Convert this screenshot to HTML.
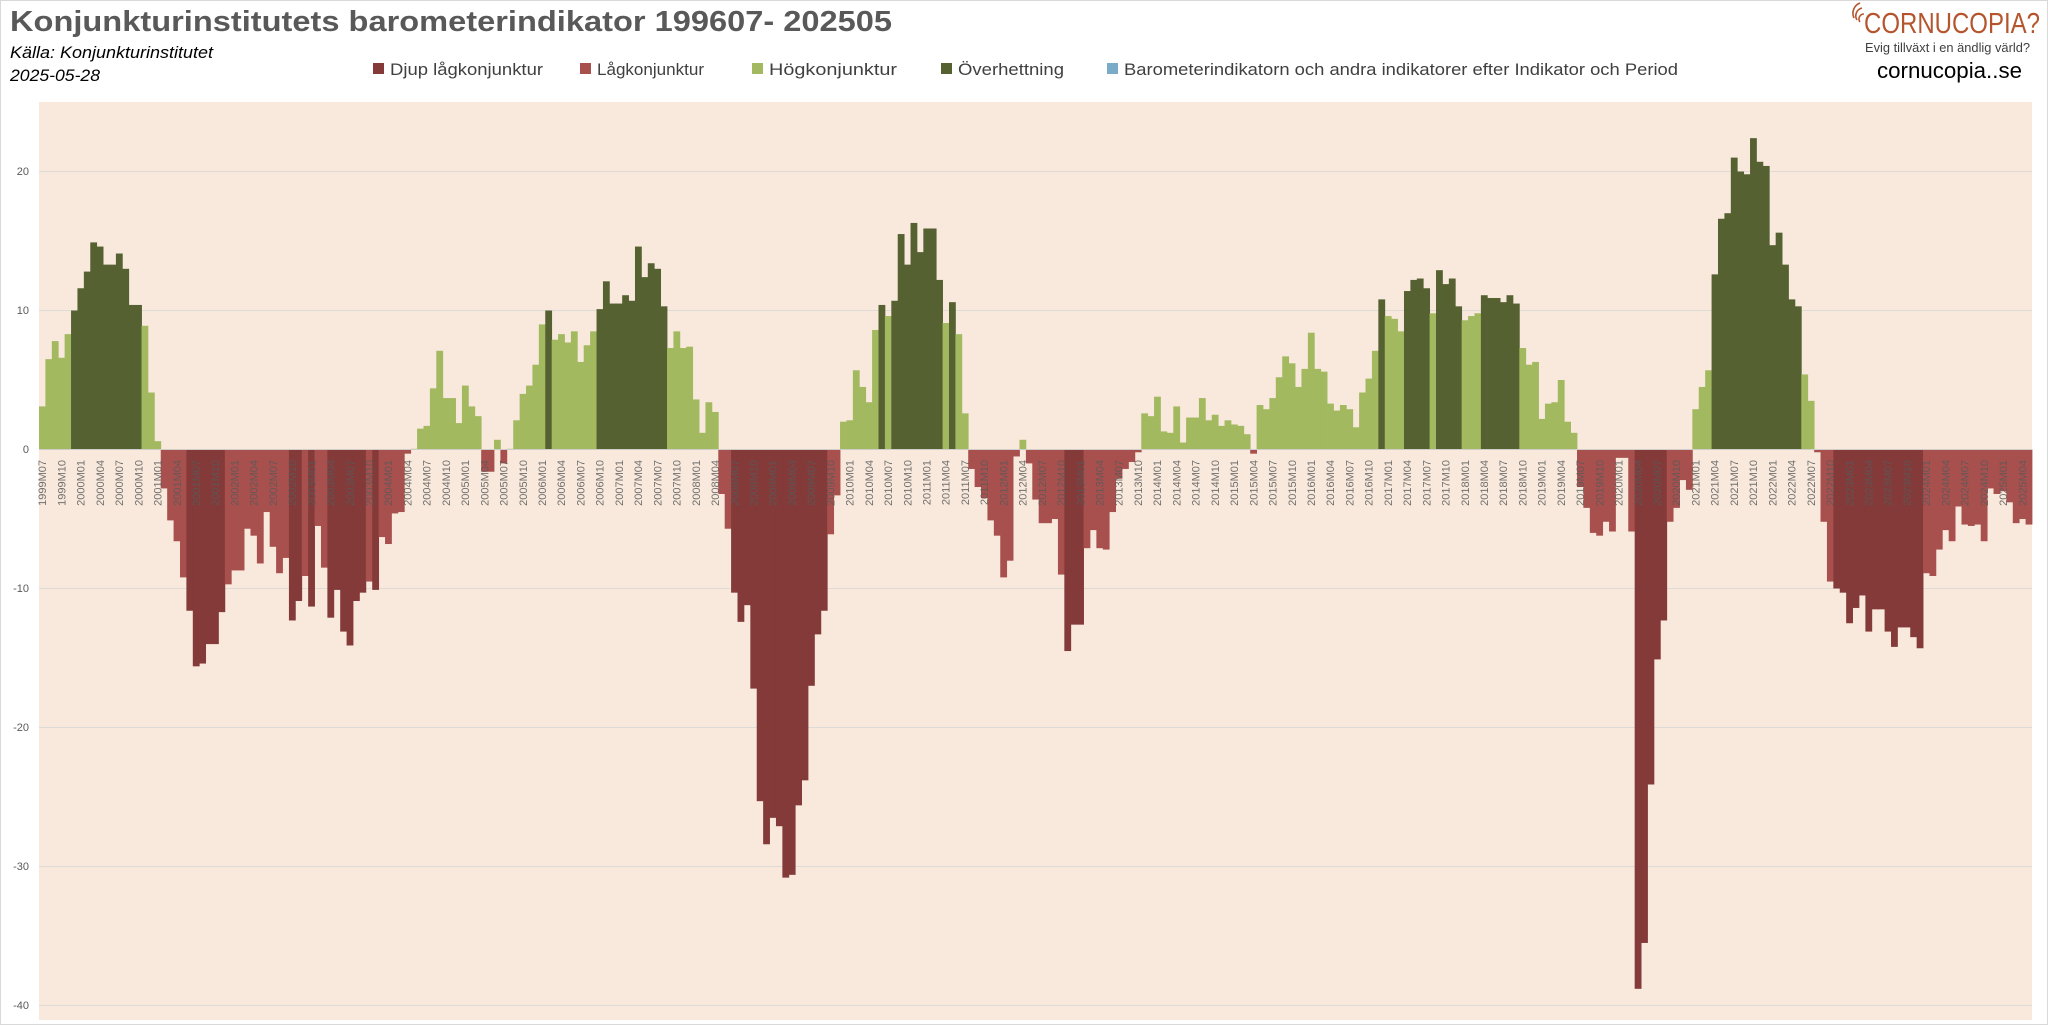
<!DOCTYPE html>
<html><head><meta charset="utf-8">
<style>
html,body{margin:0;padding:0;background:#fff;}
svg{display:block;}
text{font-family:"Liberation Sans",sans-serif;}
</style></head>
<body>
<svg id="s" width="2048" height="1025" viewBox="0 0 2048 1025" xmlns="http://www.w3.org/2000/svg">
<rect x="0.5" y="0.5" width="2047" height="1024" fill="#fff" stroke="#d9d9d9"/>
<text x="10" y="31" font-size="29" fill="#595959" font-weight="bold" textLength="882" lengthAdjust="spacingAndGlyphs">Konjunkturinstitutets barometerindikator 199607- 202505</text>
<text x="10" y="58" font-size="17" font-style="italic" fill="#000" textLength="203" lengthAdjust="spacingAndGlyphs">Källa: Konjunkturinstitutet</text>
<text x="10" y="81" font-size="17" font-style="italic" fill="#000" textLength="90" lengthAdjust="spacingAndGlyphs">2025-05-28</text>
<g font-size="17" fill="#404040">
<rect x="373" y="63" width="11" height="11" fill="#833a39"/><text x="390" y="75" textLength="153" lengthAdjust="spacingAndGlyphs">Djup lågkonjunktur</text>
<rect x="580" y="63" width="11" height="11" fill="#a8504e"/><text x="597" y="75" textLength="107" lengthAdjust="spacingAndGlyphs">Lågkonjunktur</text>
<rect x="752" y="63" width="11" height="11" fill="#a2b960"/><text x="769" y="75" textLength="128" lengthAdjust="spacingAndGlyphs">Högkonjunktur</text>
<rect x="941" y="63" width="11" height="11" fill="#566132"/><text x="958" y="75" textLength="106" lengthAdjust="spacingAndGlyphs">Överhettning</text>
<rect x="1107" y="63" width="11" height="11" fill="#7aabc8"/><text x="1124" y="75" textLength="554" lengthAdjust="spacingAndGlyphs">Barometerindikatorn och andra indikatorer efter Indikator och Period</text>
</g>
<g fill="none" stroke="#b5552d" stroke-width="1.6">
<path d="M1860 22 a5 5 0 0 1 4 -8"/><path d="M1857 20 a8 8 0 0 1 5 -12"/><path d="M1854 18 a11 11 0 0 1 6 -15"/>
</g>
<text x="1864" y="33" font-size="29" fill="#b5552d" textLength="176" lengthAdjust="spacingAndGlyphs">CORNUCOPIA?</text>
<text x="1865" y="52" font-size="13" fill="#404040" textLength="165" lengthAdjust="spacingAndGlyphs">Evig tillväxt i en ändlig värld?</text>
<text x="1877" y="78" font-size="22" fill="#000" textLength="145" lengthAdjust="spacingAndGlyphs">cornucopia..se</text>
<rect x="39" y="102" width="1993" height="918" fill="#f8e9dc"/>
<g stroke="#dedad6" stroke-width="1">
<line x1="39" x2="2032" y1="171.5" y2="171.5"/><line x1="39" x2="2032" y1="310.5" y2="310.5"/>
<line x1="39" x2="2032" y1="588.5" y2="588.5"/><line x1="39" x2="2032" y1="727.5" y2="727.5"/>
<line x1="39" x2="2032" y1="866.5" y2="866.5"/><line x1="39" x2="2032" y1="1005.5" y2="1005.5"/>
</g>
<g font-size="11" fill="#595959" text-anchor="end">
<text x="29" y="175">20</text><text x="29" y="314">10</text><text x="29" y="453">0</text>
<text x="29" y="592">-10</text><text x="29" y="731">-20</text><text x="29" y="870">-30</text><text x="29" y="1009">-40</text>
</g>
<g id="bars"></g>
<line x1="39" x2="2032" y1="449.5" y2="449.5" stroke="#d0ccc8"/>
<g font-size="11" fill="#595959" fill-opacity="0.85" text-anchor="end">
<text transform="translate(46.2,460) rotate(-90)">1999M07</text>
<text transform="translate(65.4,460) rotate(-90)">1999M10</text>
<text transform="translate(84.6,460) rotate(-90)">2000M01</text>
<text transform="translate(103.9,460) rotate(-90)">2000M04</text>
<text transform="translate(123.1,460) rotate(-90)">2000M07</text>
<text transform="translate(142.3,460) rotate(-90)">2000M10</text>
<text transform="translate(161.5,460) rotate(-90)">2001M01</text>
<text transform="translate(180.8,460) rotate(-90)">2001M04</text>
<text transform="translate(200.0,460) rotate(-90)">2001M07</text>
<text transform="translate(219.2,460) rotate(-90)">2001M10</text>
<text transform="translate(238.4,460) rotate(-90)">2002M01</text>
<text transform="translate(257.7,460) rotate(-90)">2002M04</text>
<text transform="translate(276.9,460) rotate(-90)">2002M07</text>
<text transform="translate(296.1,460) rotate(-90)">2002M10</text>
<text transform="translate(315.3,460) rotate(-90)">2003M01</text>
<text transform="translate(334.6,460) rotate(-90)">2003M04</text>
<text transform="translate(353.8,460) rotate(-90)">2003M07</text>
<text transform="translate(373.0,460) rotate(-90)">2003M10</text>
<text transform="translate(392.2,460) rotate(-90)">2004M01</text>
<text transform="translate(411.5,460) rotate(-90)">2004M04</text>
<text transform="translate(430.7,460) rotate(-90)">2004M07</text>
<text transform="translate(449.9,460) rotate(-90)">2004M10</text>
<text transform="translate(469.1,460) rotate(-90)">2005M01</text>
<text transform="translate(488.4,460) rotate(-90)">2005M04</text>
<text transform="translate(507.6,460) rotate(-90)">2005M07</text>
<text transform="translate(526.8,460) rotate(-90)">2005M10</text>
<text transform="translate(546.0,460) rotate(-90)">2006M01</text>
<text transform="translate(565.2,460) rotate(-90)">2006M04</text>
<text transform="translate(584.5,460) rotate(-90)">2006M07</text>
<text transform="translate(603.7,460) rotate(-90)">2006M10</text>
<text transform="translate(622.9,460) rotate(-90)">2007M01</text>
<text transform="translate(642.1,460) rotate(-90)">2007M04</text>
<text transform="translate(661.4,460) rotate(-90)">2007M07</text>
<text transform="translate(680.6,460) rotate(-90)">2007M10</text>
<text transform="translate(699.8,460) rotate(-90)">2008M01</text>
<text transform="translate(719.0,460) rotate(-90)">2008M04</text>
<text transform="translate(738.3,460) rotate(-90)">2008M07</text>
<text transform="translate(757.5,460) rotate(-90)">2008M10</text>
<text transform="translate(776.7,460) rotate(-90)">2009M01</text>
<text transform="translate(795.9,460) rotate(-90)">2009M04</text>
<text transform="translate(815.2,460) rotate(-90)">2009M07</text>
<text transform="translate(834.4,460) rotate(-90)">2009M10</text>
<text transform="translate(853.6,460) rotate(-90)">2010M01</text>
<text transform="translate(872.8,460) rotate(-90)">2010M04</text>
<text transform="translate(892.1,460) rotate(-90)">2010M07</text>
<text transform="translate(911.3,460) rotate(-90)">2010M10</text>
<text transform="translate(930.5,460) rotate(-90)">2011M01</text>
<text transform="translate(949.7,460) rotate(-90)">2011M04</text>
<text transform="translate(969.0,460) rotate(-90)">2011M07</text>
<text transform="translate(988.2,460) rotate(-90)">2011M10</text>
<text transform="translate(1007.4,460) rotate(-90)">2012M01</text>
<text transform="translate(1026.6,460) rotate(-90)">2012M04</text>
<text transform="translate(1045.9,460) rotate(-90)">2012M07</text>
<text transform="translate(1065.1,460) rotate(-90)">2012M10</text>
<text transform="translate(1084.3,460) rotate(-90)">2013M01</text>
<text transform="translate(1103.5,460) rotate(-90)">2013M04</text>
<text transform="translate(1122.7,460) rotate(-90)">2013M07</text>
<text transform="translate(1142.0,460) rotate(-90)">2013M10</text>
<text transform="translate(1161.2,460) rotate(-90)">2014M01</text>
<text transform="translate(1180.4,460) rotate(-90)">2014M04</text>
<text transform="translate(1199.6,460) rotate(-90)">2014M07</text>
<text transform="translate(1218.9,460) rotate(-90)">2014M10</text>
<text transform="translate(1238.1,460) rotate(-90)">2015M01</text>
<text transform="translate(1257.3,460) rotate(-90)">2015M04</text>
<text transform="translate(1276.5,460) rotate(-90)">2015M07</text>
<text transform="translate(1295.8,460) rotate(-90)">2015M10</text>
<text transform="translate(1315.0,460) rotate(-90)">2016M01</text>
<text transform="translate(1334.2,460) rotate(-90)">2016M04</text>
<text transform="translate(1353.4,460) rotate(-90)">2016M07</text>
<text transform="translate(1372.7,460) rotate(-90)">2016M10</text>
<text transform="translate(1391.9,460) rotate(-90)">2017M01</text>
<text transform="translate(1411.1,460) rotate(-90)">2017M04</text>
<text transform="translate(1430.3,460) rotate(-90)">2017M07</text>
<text transform="translate(1449.6,460) rotate(-90)">2017M10</text>
<text transform="translate(1468.8,460) rotate(-90)">2018M01</text>
<text transform="translate(1488.0,460) rotate(-90)">2018M04</text>
<text transform="translate(1507.2,460) rotate(-90)">2018M07</text>
<text transform="translate(1526.5,460) rotate(-90)">2018M10</text>
<text transform="translate(1545.7,460) rotate(-90)">2019M01</text>
<text transform="translate(1564.9,460) rotate(-90)">2019M04</text>
<text transform="translate(1584.1,460) rotate(-90)">2019M07</text>
<text transform="translate(1603.3,460) rotate(-90)">2019M10</text>
<text transform="translate(1622.6,460) rotate(-90)">2020M01</text>
<text transform="translate(1641.8,460) rotate(-90)">2020M04</text>
<text transform="translate(1661.0,460) rotate(-90)">2020M07</text>
<text transform="translate(1680.2,460) rotate(-90)">2020M10</text>
<text transform="translate(1699.5,460) rotate(-90)">2021M01</text>
<text transform="translate(1718.7,460) rotate(-90)">2021M04</text>
<text transform="translate(1737.9,460) rotate(-90)">2021M07</text>
<text transform="translate(1757.1,460) rotate(-90)">2021M10</text>
<text transform="translate(1776.4,460) rotate(-90)">2022M01</text>
<text transform="translate(1795.6,460) rotate(-90)">2022M04</text>
<text transform="translate(1814.8,460) rotate(-90)">2022M07</text>
<text transform="translate(1834.0,460) rotate(-90)">2022M10</text>
<text transform="translate(1853.3,460) rotate(-90)">2023M01</text>
<text transform="translate(1872.5,460) rotate(-90)">2023M04</text>
<text transform="translate(1891.7,460) rotate(-90)">2023M07</text>
<text transform="translate(1910.9,460) rotate(-90)">2023M10</text>
<text transform="translate(1930.2,460) rotate(-90)">2024M01</text>
<text transform="translate(1949.4,460) rotate(-90)">2024M04</text>
<text transform="translate(1968.6,460) rotate(-90)">2024M07</text>
<text transform="translate(1987.8,460) rotate(-90)">2024M10</text>
<text transform="translate(2007.1,460) rotate(-90)">2025M01</text>
<text transform="translate(2026.3,460) rotate(-90)">2025M04</text>
</g>
</svg>
<script>
var d=[3.1,6.5,7.8,6.6,8.3,10.0,11.6,12.8,14.9,14.6,13.3,13.3,14.1,13.0,10.4,10.4,8.9,4.1,0.6,-2.8,-5.1,-6.6,-9.2,-11.6,-15.6,-15.4,-14.0,-14.0,-11.7,-9.7,-8.7,-8.7,-5.7,-6.2,-8.2,-4.5,-7.0,-8.9,-7.8,-12.3,
-10.9,-9.1,-11.3,-5.5,-8.5,-12.1,-10.1,-13.1,-14.1,-10.9,-10.3,-9.5,-10.1,-6.3,-6.8,-4.6,-4.5,-0.3,0.05,1.5,1.7,4.4,7.1,3.7,3.7,1.9,4.6,3.1,2.4,-1.6,-1.6,0.7,-1.0,0.05,2.1,4.0,4.6,6.1,9.0,10.0,
7.9,8.3,7.7,8.5,6.3,7.5,8.5,10.1,12.1,10.5,10.5,11.1,10.7,14.6,12.4,13.4,13.0,10.3,7.3,8.5,7.3,7.4,3.6,1.2,3.4,2.7,-3.2,-5.7,-10.3,-12.4,-11.2,-17.2,-25.3,-28.4,-26.5,-27.1,-30.8,-30.6,-25.6,-23.8,
-17,-13.3,-11.6,-6.1,-3.3,2.0,2.1,5.7,4.5,3.4,8.6,10.4,9.6,10.7,15.5,13.3,16.3,14.2,15.9,15.9,12.2,9.1,10.6,8.3,2.6,-1.4,-2.7,-3.5,-5.1,-6.2,-9.2,-8.0,-0.5,0.7,-1.0,-3.6,-5.3,-5.3,-5.0,-9.0,
-14.5,-12.6,-12.6,-7.1,-5.8,-7.1,-7.2,-4.5,-2.1,-1.4,-0.9,-0.2,2.6,2.4,3.8,1.3,1.2,3.1,0.5,2.3,2.3,3.7,2.1,2.5,1.7,2.1,1.8,1.7,1.1,-0.3,3.2,2.9,3.7,5.2,6.7,6.2,4.5,5.8,8.4,5.8,
5.6,3.3,2.8,3.2,2.9,1.6,4.1,5.1,7.1,10.8,9.6,9.4,8.5,11.4,12.2,12.3,11.6,9.8,12.9,11.9,12.3,10.3,9.3,9.6,9.8,11.1,10.9,10.9,10.6,11.1,10.5,7.3,6.1,6.3,2.2,3.3,3.4,5.0,2.0,1.2,
-2.7,-4.2,-6.0,-6.2,-5.2,-5.9,-0.6,-0.6,-5.9,-38.8,-35.5,-24.1,-15.1,-12.3,-5.2,-4.2,-2.2,-2.9,2.9,4.5,5.7,12.6,16.6,17.0,21.0,20.0,19.8,22.4,20.7,20.4,14.7,15.6,13.3,10.8,10.3,5.4,3.5,-0.2,-5.2,
-9.5,-10.0,-10.3,-12.5,-11.4,-10.5,-13.1,-11.5,-11.5,-13.1,-14.2,-12.8,-12.8,-13.5,-14.3,-8.9,-9.1,-7.2,-5.8,-6.6,-4.1,-5.4,-5.5,-5.4,-6.6,-2.8,-3.2,-3.0,-3.8,-5.3,-5.0,-5.4];
var ns="http://www.w3.org/2000/svg",g=document.getElementById("bars");
var w=1993/311,z=449.5,u=13.9;
for(var i=0;i<d.length;i++){var v=d[i],c;
if(v>=10)c="#566132";else if(v>=0)c="#a2b960";else if(v>-10)c="#a8504e";else c="#833a39";
var r=document.createElementNS(ns,"rect");var x=39+w*i;
r.setAttribute("x",x.toFixed(2));r.setAttribute("width",(w+0.4).toFixed(2));
var y1=z-v*u;r.setAttribute("y",Math.min(y1,z).toFixed(2));r.setAttribute("height",Math.max(Math.abs(v*u),0.8).toFixed(2));
r.setAttribute("fill",c);g.appendChild(r);}
</script>
</body></html>
